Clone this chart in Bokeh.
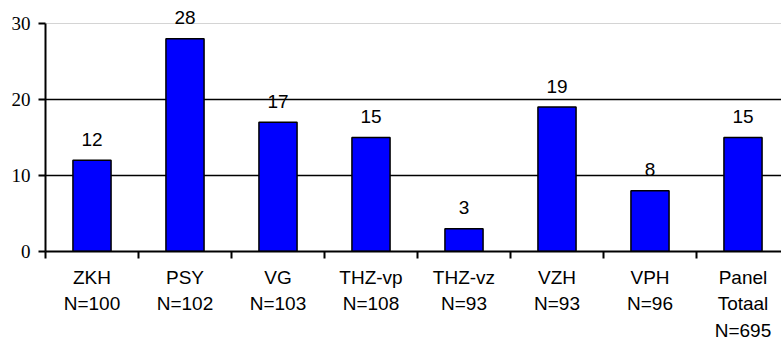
from bokeh.plotting import figure
from bokeh.models import FixedTicker, Grid, ColumnDataSource, Range1d
from bokeh.core.properties import value
from bokeh.embed import file_html
from bokeh.resources import INLINE

categories = ["ZKH\nN=100", "PSY\nN=102", "VG\nN=103", "THZ-vp\nN=108",
              "THZ-vz\nN=93", "VZH\nN=93", "VPH\nN=96", "Panel\nTotaal\nN=695"]
values = [12, 28, 17, 15, 3, 19, 8, 15]
y_ticks = [0, 10, 20, 30]

n = len(categories)
centers = [i + 0.5 for i in range(n)]
src = ColumnDataSource(dict(x=centers, top=values, lbl=[str(v) for v in values]))

W, H = 781, 344
left, bottom = 45, 93
px_per_cat = 93.0
frame_h = H - bottom
px_per_unit = (frame_h - 23) / 30.0

p = figure(width=W, height=H, output_backend="svg", toolbar_location=None,
           x_range=Range1d(0, (W - left) / px_per_cat),
           y_range=Range1d(0, frame_h / px_per_unit),
           min_border_left=left, min_border_right=0, min_border_top=0,
           min_border_bottom=bottom)
p.outline_line_color = None
p.background_fill_color = "white"
p.border_fill_color = "white"

# grid
p.xgrid.visible = False
p.ygrid.ticker = FixedTicker(ticks=[10, 20])
p.ygrid.grid_line_color = "black"
p.ygrid.grid_line_width = 1.6
g30 = Grid(dimension=1, ticker=FixedTicker(ticks=[30]), grid_line_color="#d4d4d4", grid_line_width=1.2)
p.add_layout(g30)

p.vbar(x="x", top="top", width=0.41, bottom=0, source=src,
       fill_color="#0000FF", line_color="black", line_width=1.5)
p.text(x="x", y="top", text="lbl", source=src, text_align="center",
       text_baseline="alphabetic", y_offset=-21, text_font=value("Liberation Sans"),
       text_font_size=value("19px"), text_color="black")

# x axis
xa = p.xaxis[0]
xa.ticker = FixedTicker(ticks=centers, minor_ticks=[float(i) for i in range(n + 1)])
xa.major_label_overrides = {c: lab for c, lab in zip(centers, categories)}
xa.major_tick_out = 0
xa.major_tick_in = 0
xa.minor_tick_out = 7
xa.minor_tick_in = 0
xa.minor_tick_line_width = 2
xa.minor_tick_line_color = "black"
xa.axis_line_width = 2
xa.axis_line_color = "black"
xa.major_label_text_font = "Liberation Sans"
xa.major_label_text_font_size = "19px"
xa.major_label_text_color = "black"
xa.major_label_text_line_height = 1.27
xa.major_label_standoff = 8

# y axis
ya = p.yaxis[0]
ya.ticker = FixedTicker(ticks=y_ticks, minor_ticks=[])
ya.bounds = (0, 30)
ya.major_tick_out = 7
ya.major_tick_in = 0
ya.major_tick_line_width = 2
ya.major_tick_line_color = "black"
ya.minor_tick_out = 0
ya.minor_tick_in = 0
ya.axis_line_width = 2
ya.axis_line_color = "black"
ya.major_label_text_font = "Liberation Serif"
ya.major_label_text_font_size = "19px"
ya.major_label_text_color = "black"
ya.major_label_standoff = 8

open("out.html", "w").write(file_html(p, INLINE))
